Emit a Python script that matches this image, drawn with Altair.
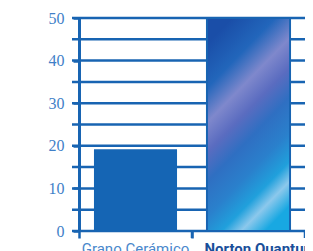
import altair as alt
import pandas as pd

categories = ["Grano Cerámico", "Norton Quantum"]
values = [19.2, 50]
grid_values = [0, 5, 10, 15, 20, 25, 30, 35, 40, 45, 50]
label_values = [0, 10, 20, 30, 40, 50]

BLUE = "#1864b2"
W, H = 226, 213

df = pd.DataFrame({"cat": categories, "val": values})
grid_df = pd.DataFrame({"g": grid_values})

xscale = alt.Scale(domain=categories, paddingInner=0, paddingOuter=0)
yscale = alt.Scale(domain=[0, 50], nice=False)

xaxis = alt.Axis(
    title=None,
    domain=False,
    grid=False,
    ticks=True,
    tickSize=7,
    tickWidth=2.5,
    tickColor=BLUE,
    bandPosition=0,
    labelAngle=0,
    labelFont="Roboto",
    labelFontSize=15,
    labelPadding=3,
    labelOffset=alt.ExprRef(expr="datum.value == 'Norton Quantum' ? 12 : 0"),
    labelFontWeight=alt.ExprRef(expr="datum.value == 'Norton Quantum' ? 'bold' : 'normal'"),
    labelColor=alt.ExprRef(expr="datum.value == 'Norton Quantum' ? '#1a4f9a' : '#4a88cc'"),
)
yaxis = alt.Axis(
    title=None,
    values=label_values,
    grid=False,
    domain=True,
    domainColor=BLUE,
    domainWidth=3,
    ticks=True,
    tickSize=6,
    tickWidth=2.5,
    tickColor=BLUE,
    labelFont="Liberation Sans Narrow",
    labelFontSize=16,
    labelColor="#3f7fc8",
    labelPadding=9,
)

grid = alt.Chart(grid_df).mark_rule(color=BLUE, strokeWidth=2.5).encode(
    y=alt.Y("g:Q", scale=yscale, axis=yaxis),
    x=alt.value(-7),
    x2=alt.value(W + 12),
)

base = alt.Chart(df)

bar1 = base.transform_filter(alt.datum.cat == "Grano Cerámico").mark_bar(
    color="#1565b4", width=alt.RelativeBandSize(0.735)
).encode(
    x=alt.X("cat:N", scale=xscale, axis=xaxis, sort=categories),
    y=alt.Y("val:Q", scale=yscale, axis=yaxis),
)

grad = alt.Gradient(
    gradient="linear",
    x1=0.3, y1=0, x2=0.7, y2=1,
    stops=[
        alt.GradientStop(color="#1a4ea8", offset=0),
        alt.GradientStop(color="#2266bb", offset=0.18),
        alt.GradientStop(color="#7f88cc", offset=0.32),
        alt.GradientStop(color="#5a6cc0", offset=0.44),
        alt.GradientStop(color="#2f6fc2", offset=0.56),
        alt.GradientStop(color="#2a80cc", offset=0.7),
        alt.GradientStop(color="#20a0dc", offset=0.82),
        alt.GradientStop(color="#8cc8ec", offset=0.9),
        alt.GradientStop(color="#18a8e2", offset=1),
    ],
)

bar2 = base.transform_filter(alt.datum.cat == "Norton Quantum").mark_bar(
    color=grad, stroke=BLUE, strokeWidth=2, width=alt.RelativeBandSize(0.735)
).encode(
    x=alt.X("cat:N", scale=xscale, axis=xaxis, sort=categories),
    y=alt.Y("val:Q", scale=yscale, axis=yaxis),
)

endticks = base.mark_rule(color=BLUE, strokeWidth=2.5).encode(
    x=alt.X("cat:N", scale=xscale, axis=xaxis, bandPosition=1, sort=categories),
    y=alt.value(H),
    y2=alt.value(H + 7),
)

chart = alt.layer(grid, bar1, bar2, endticks).properties(
    width=W,
    height=H,
    autosize=alt.AutoSizeParams(type="none"),
    padding={"left": 71, "top": 10, "right": 0, "bottom": 20},
).configure_view(stroke=None)

chart.save("out.html", embed_options={"renderer": "svg", "actions": False})
